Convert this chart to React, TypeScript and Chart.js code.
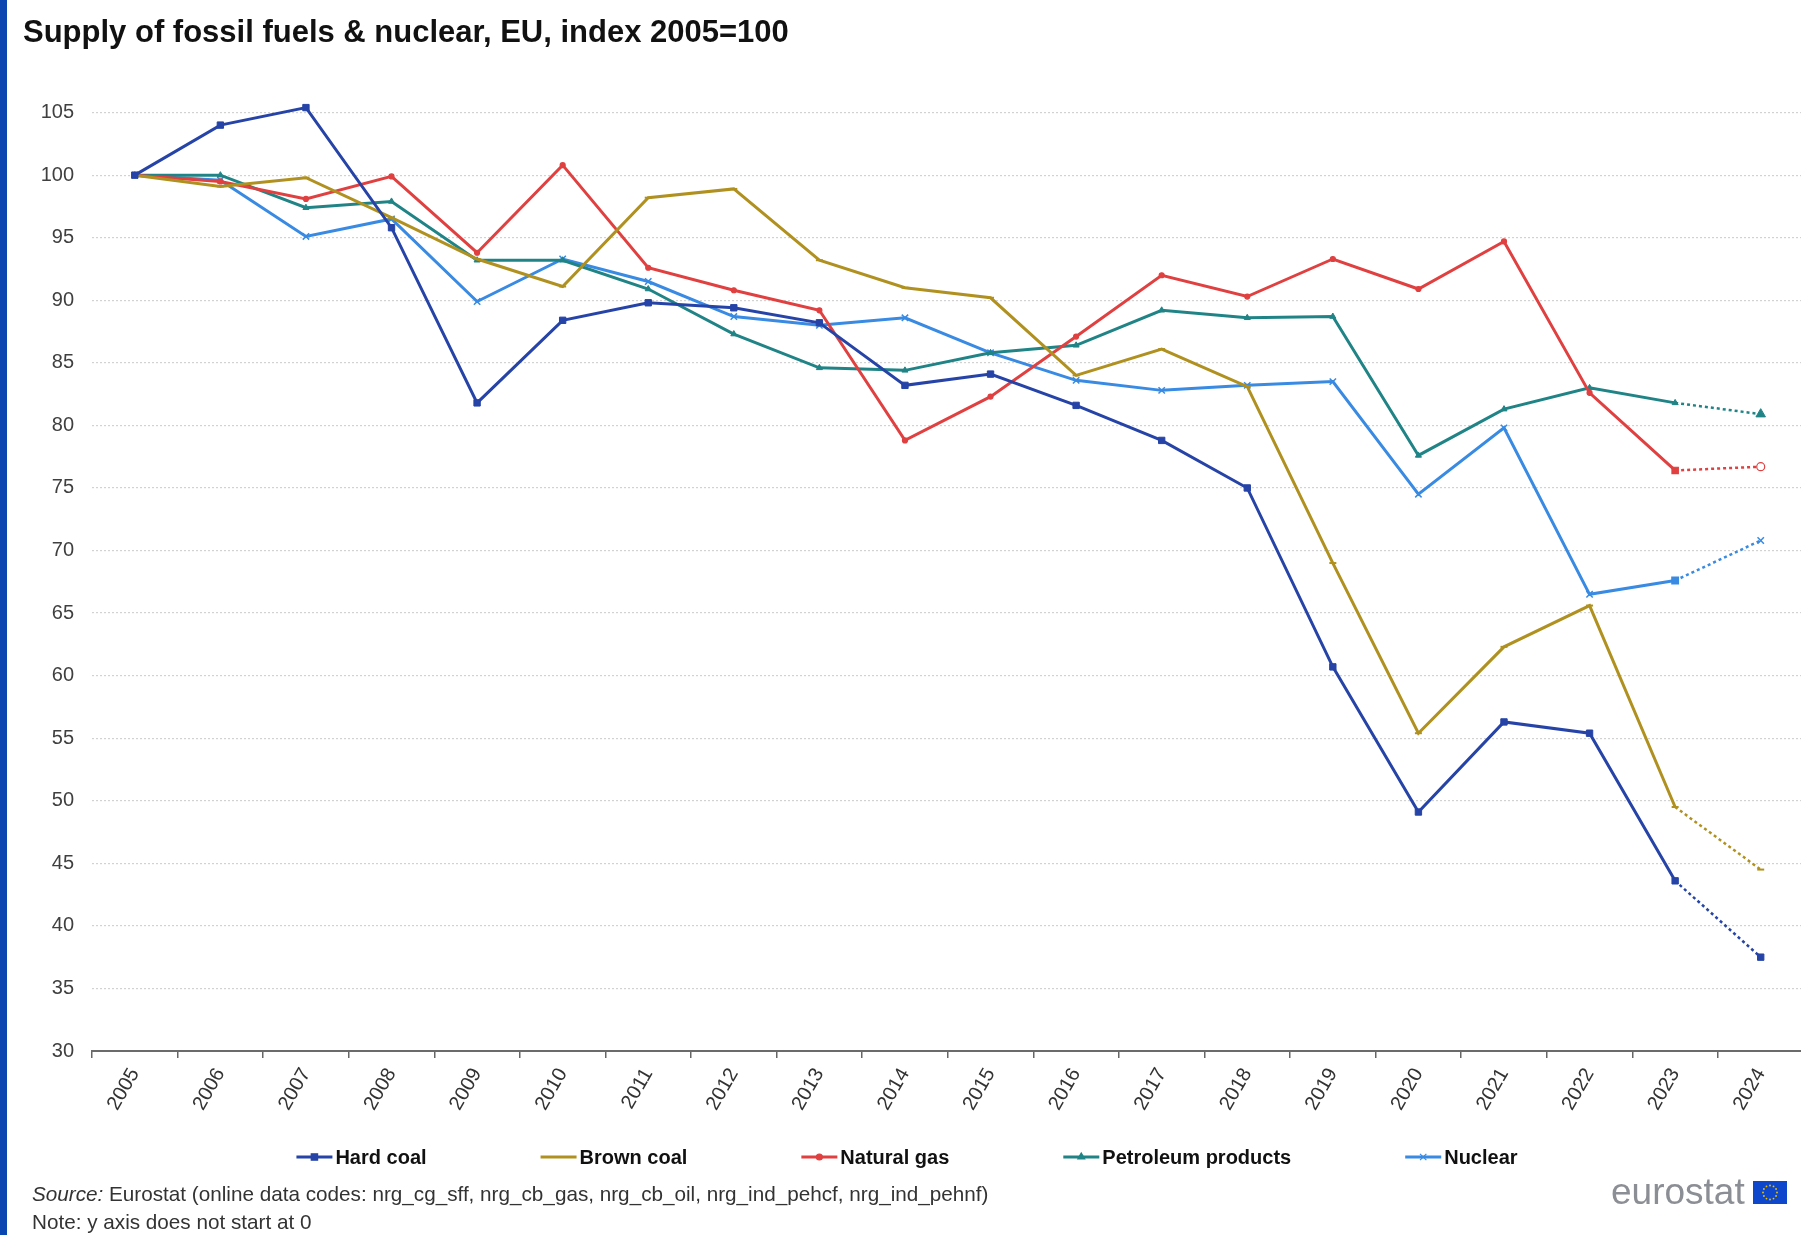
import React, { useEffect, useRef } from 'react';
import { Chart, registerables } from 'chart.js';
import { drawPoint } from 'chart.js/helpers';

Chart.register(...registerables);

const FONT = "'Liberation Sans', Arial, Helvetica, sans-serif";

// ---- data ----
const years = ['2005', '2006', '2007', '2008', '2009', '2010', '2011', '2012', '2013', '2014',
  '2015', '2016', '2017', '2018', '2019', '2020', '2021', '2022', '2023', '2024'];

const hardCoal = [100, 104.0, 105.4, 95.8, 81.8, 88.4, 89.8, 89.4, 88.2, 83.2,
  84.1, 81.6, 78.8, 75.0, 60.7, 49.1, 56.3, 55.4, 43.6, 37.5];
const brownCoal = [100, 99.1, 99.8, 96.6, 93.3, 91.1, 98.2, 98.9, 93.2, 91.0,
  90.2, 84.0, 86.1, 83.1, 69.0, 55.4, 62.3, 65.6, 49.5, 44.5];
const naturalGas = [100, 99.5, 98.1, 99.9, 93.8, 100.8, 92.6, 90.8, 89.2, 78.8,
  82.3, 87.1, 92.0, 90.3, 93.3, 90.9, 94.7, 82.6, 76.4, 76.7];
const petroleumProducts = [100, 100.0, 97.4, 97.9, 93.2, 93.2, 90.9, 87.3, 84.6, 84.4,
  85.8, 86.4, 89.2, 88.6, 88.7, 77.6, 81.3, 83.0, 81.8, 80.9];
const nuclear = [100, 99.6, 95.1, 96.5, 89.9, 93.3, 91.5, 88.7, 88.0, 88.6,
  85.8, 83.6, 82.8, 83.2, 83.5, 74.5, 79.8, 66.5, 67.6, 70.8];

const seriesNames = ['Hard coal', 'Brown coal', 'Natural gas', 'Petroleum products', 'Nuclear'];
const seriesValues = [hardCoal, brownCoal, naturalGas, petroleumProducts, nuclear];
const seriesColors = ['#2644A7', '#B09120', '#E04040', '#208486', '#388AE2'];

const yTickStep = 5;
const yMin = 30;
const yMax = 105;

const titleText = 'Supply of fossil fuels & nuclear, EU, index 2005=100';
const sourceText = 'Eurostat (online data codes: nrg_cg_sff, nrg_cb_gas, nrg_cb_oil, nrg_ind_pehcf, nrg_ind_pehnf)';
const noteText = 'Note: y axis does not start at 0';

// ---- styles ----
const LAST = years.length - 1;
const dottedSeg = (ctx: any) => (ctx.p1DataIndex === LAST ? [3, 3] : undefined);

const pointStyles: any[] = [
  { pointStyle: 'rect', pointRadius: 4.5, pointBorderWidth: 1 },
  { pointStyle: 'line', pointRadius: 3.5, pointBorderWidth: 2 },
  {
    pointStyle: (c: any) => (c.dataIndex === LAST - 1 ? 'rect' : 'circle'),
    pointRadius: (c: any) => (c.dataIndex === LAST - 1 ? 4.5 : c.dataIndex === LAST ? 4 : 2.5),
    pointBackgroundColor: (c: any) => (c.dataIndex === LAST ? '#ffffff' : '#E04040'),
    pointBorderWidth: 1.2,
  },
  {
    pointStyle: 'triangle',
    pointRadius: (c: any) => (c.dataIndex === LAST ? 5.5 : 3.5),
    pointBorderWidth: 1,
  },
  {
    pointStyle: (c: any) => (c.dataIndex === LAST - 1 ? 'rect' : 'crossRot'),
    pointRadius: 4.5,
    pointBorderWidth: 1.5,
  },
];

const legendMarkers: any[] = ['rect', null, 'circle', 'triangle', 'crossRot'];
const legendRadius = [4.5, 0, 3, 4, 4.5];

const legendPlugin = {
  id: 'eurostatLegend',
  afterDraw(chart: any) {
    const ctx = chart.ctx;
    ctx.save();
    ctx.font = `bold 20px ${FONT}`;
    const lineLen = 36;
    const gapText = 3;
    const gapItem = 114;
    const widths = seriesNames.map((n) => ctx.measureText(n).width);
    const total = widths.reduce((a, b) => a + b, 0) + seriesNames.length * (lineLen + gapText) + gapItem * (seriesNames.length - 1);
    let x = 907 - total / 2;
    const y = 1157;
    seriesNames.forEach((name, i) => {
      ctx.strokeStyle = seriesColors[i];
      ctx.fillStyle = seriesColors[i];
      ctx.lineWidth = 3;
      ctx.setLineDash([]);
      ctx.beginPath();
      ctx.moveTo(x, y);
      ctx.lineTo(x + lineLen, y);
      ctx.stroke();
      if (legendMarkers[i]) {
        ctx.lineWidth = 1.2;
        drawPoint(ctx, { pointStyle: legendMarkers[i], radius: legendRadius[i], borderWidth: 1.2, rotation: 0 } as any, x + lineLen / 2, y);
      }
      ctx.fillStyle = '#111111';
      ctx.textAlign = 'left';
      ctx.textBaseline = 'middle';
      ctx.fillText(name, x + lineLen + gapText, y + 1);
      x += lineLen + gapText + widths[i] + gapItem;
    });
    ctx.restore();
  },
};

function LineChart() {
  const ref = useRef<HTMLCanvasElement | null>(null);
  useEffect(() => {
    if (!ref.current) return;
    const chart = new Chart(ref.current, {
      type: 'line',
      data: {
        labels: years,
        datasets: seriesValues.map((vals, i) => ({
          label: seriesNames[i],
          data: vals,
          borderColor: seriesColors[i],
          backgroundColor: seriesColors[i],
          pointBackgroundColor: seriesColors[i],
          pointBorderColor: seriesColors[i],
          borderWidth: 3,
          tension: 0,
          clip: false as any,
          segment: { borderDash: dottedSeg, borderWidth: (c: any) => (c.p1DataIndex === LAST ? 2.5 : undefined) },
          ...pointStyles[i],
        })),
      },
      options: {
        animation: false,
        responsive: true,
        maintainAspectRatio: false,
        devicePixelRatio: 1,
        layout: { padding: { top: 112.6, right: 2, bottom: 0, left: 0 } },
        plugins: {
          legend: { display: false },
          title: { display: false },
          tooltip: { enabled: false },
        },
        scales: {
          x: {
            offset: true,
            grid: {
              display: true,
              offset: true,
              drawOnChartArea: false,
              drawTicks: true,
              tickLength: 7,
              color: '#666666',
              lineWidth: 1.5,
            },
            border: { display: true, color: '#6b6b6b', width: 2 },
            ticks: {
              autoSkip: false,
              maxRotation: 60,
              minRotation: 60,
              padding: 6,
              color: '#333333',
              font: { family: FONT, size: 20 },
            },
            afterFit: (s: any) => {
              s.height = 184;
            },
          },
          y: {
            min: yMin,
            max: yMax,
            grid: { color: '#d2d2d2', lineWidth: 1.2, drawTicks: false },
            border: { display: false, dash: [2, 2] },
            ticks: {
              stepSize: yTickStep,
              padding: 18,
              color: '#404040',
              font: { family: FONT, size: 20 },
            },
            afterFit: (s: any) => {
              s.width = 92;
            },
          },
        },
      },
      plugins: [legendPlugin],
    });
    return () => chart.destroy();
  }, []);
  return <canvas ref={ref} />;
}

function EuFlag() {
  const stars = Array.from({ length: 12 }, (_, k) => {
    const a = (k / 12) * Math.PI * 2;
    return { cx: 17 + 7 * Math.cos(a), cy: 11.5 + 7 * Math.sin(a) };
  });
  return (
    <svg width={34} height={23} style={{ position: 'absolute', left: 1753, top: 1181 }}>
      <rect x={0} y={0} width={34} height={23} fill="#0e47cb" />
      {stars.map((s, k) => (
        <circle key={k} cx={s.cx} cy={s.cy} r={0.9} fill="#f2c400" />
      ))}
    </svg>
  );
}

export default function App() {
  return (
    <div
      style={{
        position: 'absolute',
        left: 0,
        top: 0,
        width: 1801,
        height: 1235,
        overflow: 'hidden',
        background: '#ffffff',
        fontFamily: FONT,
      }}
    >
      <div style={{ position: 'absolute', left: 0, top: 0, width: 1810, height: 1235 }}>
        <LineChart />
      </div>
      <div style={{ position: 'absolute', left: 0, top: 0, width: 7, height: 1235, background: '#0a46b0' }} />
      <div
        style={{
          position: 'absolute',
          left: 23,
          top: 16,
          fontSize: 31,
          lineHeight: '31px',
          fontWeight: 700,
          color: '#111111',
          whiteSpace: 'nowrap',
        }}
      >
        {titleText}
      </div>
      <div
        style={{
          position: 'absolute',
          left: 32,
          top: 1183,
          fontSize: 20.7,
          lineHeight: '21px',
          color: '#333333',
          whiteSpace: 'nowrap',
        }}
      >
        <i>Source:</i> {sourceText}
      </div>
      <div
        style={{
          position: 'absolute',
          left: 32,
          top: 1211,
          fontSize: 20.7,
          lineHeight: '21px',
          color: '#333333',
          whiteSpace: 'nowrap',
        }}
      >
        {noteText}
      </div>
      <div
        style={{
          position: 'absolute',
          left: 1611,
          top: 1173,
          fontSize: 37,
          lineHeight: '37px',
          color: '#8b8e94',
          whiteSpace: 'nowrap',
        }}
      >
        eurostat
      </div>
      <EuFlag />
    </div>
  );
}
